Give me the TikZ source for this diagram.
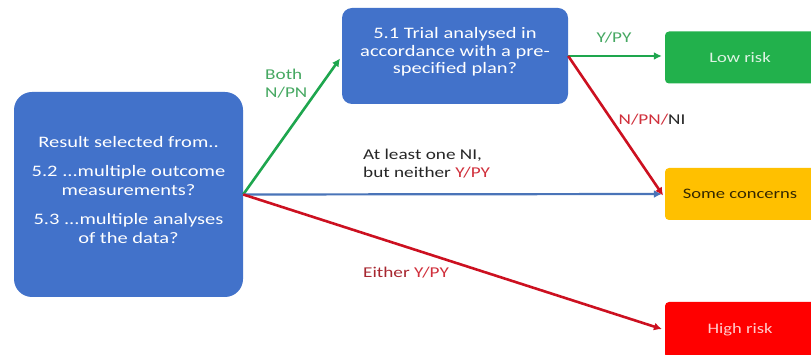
\documentclass[tikz,border=0pt]{standalone}
\usepackage{fontspec}
\newfontfamily\calfont[FakeStretch=1.28]{Carlito}
\usetikzlibrary{arrows.meta}
\definecolor{boxblue}{HTML}{4272CA}
\definecolor{lowgreen}{HTML}{22B14C}
\definecolor{arrgreen}{HTML}{1EA64E}
\definecolor{arrblue}{HTML}{4A74B8}
\definecolor{arrred}{HTML}{CC1020}
\definecolor{concern}{HTML}{FFC000}
\definecolor{labgreen}{HTML}{46A862}
\definecolor{labred}{HTML}{D0303C}
\tikzset{
  qbox/.style={fill=boxblue, draw=none, text=white},
  rbox/.style={draw=none, minimum width=150pt, minimum height=52pt, rounded corners=4pt,
    font=\calfont\fontsize{14.5}{17}\selectfont},
  conn/.style={line width=2.6pt, -{Latex[length=8pt,width=8pt]}, shorten >=3pt},
  lab/.style={font=\calfont\fontsize{15}{18}\selectfont, align=left, inner sep=0pt}
}
\begin{document}
\begin{tikzpicture}[x=1pt,y=-1pt]
\useasboundingbox (0,0) rectangle (811,355);
\begin{scope}
\clip (0,0) rectangle (811,355);
% question boxes
\node[qbox, rounded corners=18pt, minimum width=229pt, minimum height=205pt] (L) at (128.5,194.5) {};
\node[text=white, align=center, font=\calfont\fontsize{16}{19}\selectfont] (Lt) at (128.5,190)
  {Result selected from..\\[10pt]5.2 ...multiple outcome\\measurements?\\[10pt]5.3 ...multiple analyses\\of the data?};
\node[qbox, rounded corners=10pt, minimum width=226pt, minimum height=96pt] (T) at (455,56) {};
\node[text=white, align=center, font=\calfont\fontsize{16}{17.5}\selectfont] (Tt) at (455,52)
  {5.1 Trial analysed in\\accordance with a pre-\\specified plan?};
% result boxes
\node[rbox, fill=lowgreen, text=white!85!lowgreen] (LR) at (740,57.5) {Low risk};
\node[rbox, fill=concern, text=black!80!concern] (SC) at (740,194) {Some concerns};
\node[rbox, fill=red, text=white!80!red, minimum height=56pt] (HR) at (740,330) {High risk};
\end{scope}
% connectors
\draw[conn, arrgreen] (L.east) -- (T.west);
\draw[conn, arrblue, line width=2.2pt] (L.east) -- (SC.west);
\draw[conn, arrred] (L.east) -- (HR.west);
\draw[conn, arrgreen] (T.east) -- (LR.west |- T.east);
\draw[conn, arrred] (T.east) -- ([yshift=-4pt]SC.west);
% labels
\node[lab, text=labgreen, anchor=west] (lboth) at (265,84) {Both\\N/PN};
\node[lab, text=labgreen] (lypy) at (614,38) {Y/PY};
\node[lab] (lnpn) at (652,120) {\textcolor{labred}{N/PN/}\textcolor{black!85}{NI}};
\node[lab, anchor=west, text=black!85] (lni) at (363,164) {At least one NI,\\but neither \textcolor{labred}{Y/PY}};
\node[lab, anchor=west] (leither) at (363,273) {\textcolor{labred!80!black}{Either} \textcolor{labred}{Y/PY}};
\end{tikzpicture}
\end{document}
